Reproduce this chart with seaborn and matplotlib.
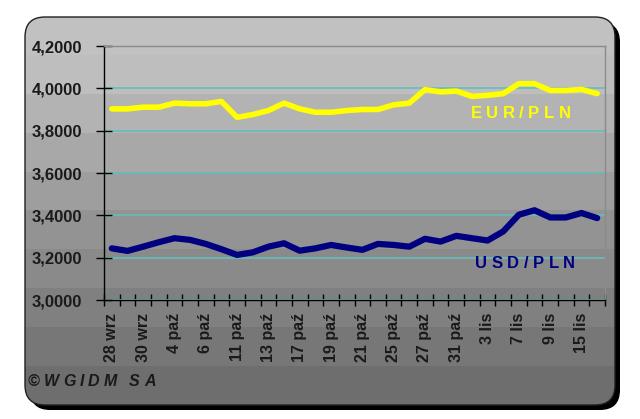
import numpy as np
import pandas as pd
import matplotlib
matplotlib.use("Agg")
import matplotlib.pyplot as plt
import seaborn as sns
from matplotlib.patches import FancyBboxPatch

# kursy walut - notowania dzienne
dates = ['28 wrz', '29 wrz', '30 wrz', '3 paź', '4 paź', '5 paź', '6 paź', '10 paź',
         '11 paź', '12 paź', '13 paź', '16 paź', '17 paź', '18 paź', '19 paź', '20 paź',
         '21 paź', '24 paź', '25 paź', '26 paź', '27 paź', '30 paź', '31 paź', '2 lis',
         '3 lis', '6 lis', '7 lis', '8 lis', '9 lis', '14 lis', '15 lis', '16 lis']
eur_pln = [3.903, 3.903, 3.911, 3.911, 3.930, 3.927, 3.927, 3.938,
           3.863, 3.876, 3.895, 3.930, 3.903, 3.887, 3.887, 3.895,
           3.900, 3.900, 3.922, 3.930, 3.994, 3.983, 3.987, 3.962,
           3.967, 3.975, 4.022, 4.022, 3.990, 3.990, 3.995, 3.975]
usd_pln = [3.244, 3.232, 3.252, 3.273, 3.292, 3.284, 3.265, 3.240,
           3.213, 3.225, 3.252, 3.268, 3.233, 3.244, 3.260, 3.248,
           3.237, 3.265, 3.260, 3.252, 3.289, 3.276, 3.303, 3.292,
           3.281, 3.324, 3.403, 3.424, 3.390, 3.390, 3.411, 3.387]
y_ticks = [3.0, 3.2, 3.4, 3.6, 3.8, 4.0, 4.2]
series_names = ['EUR/PLN', 'USD/PLN']

df = pd.DataFrame({'pos': np.arange(len(dates)), 'date': dates,
                   'EUR/PLN': eur_pln, 'USD/PLN': usd_pln})

sns.set_theme(style="white")
plt.rcParams['font.family'] = ['Liberation Sans', 'DejaVu Sans']

W, H = 640, 419
fig = plt.figure(figsize=(W / 100, H / 100), dpi=100)
fig.patch.set_facecolor('white')

# tlo - zaokraglona ramka z cieniem i pasami szarosci
bg = fig.add_axes([0, 0, 1, 1])
bg.set_axis_off()
shadow = FancyBboxPatch((30, 22), 590, 388, boxstyle="round,pad=0,rounding_size=20",
                        fc='black', ec='none', zorder=0)
bg.add_patch(shadow)
levels = [0.755, 0.745, 0.70, 0.66, 0.62, 0.58, 0.54, 0.50, 0.465, 0.43]
grad = np.repeat(np.array(levels), 39)[:, None]
im = bg.imshow(grad, extent=[25, 615, 405, 17], cmap='gray', vmin=0, vmax=1,
               aspect='auto', interpolation='nearest', zorder=1)
box = FancyBboxPatch((25, 17), 590, 388, boxstyle="round,pad=0,rounding_size=20",
                     fc='none', ec='#202020', lw=1, zorder=2)
bg.add_patch(box)
im.set_clip_path(box)
bg.set_xlim(0, W)
bg.set_ylim(H, 0)


def spaced_text(ax, x, y, s, gap, trans, ha='center', **kw):
    # tekst z rozstrzelonymi literami (jak w oryginale)
    fig.canvas.draw()
    r = fig.canvas.get_renderer()
    parts = []
    for ch in s:
        t = ax.text(0, 0, ch, transform=trans, **kw)
        parts.append((t, t.get_window_extent(renderer=r).width))
    total = sum(w for _, w in parts) + gap * (len(s) - 1)
    px, py = trans.transform((x, y))
    cur = px - total / 2 if ha == 'center' else px
    for t, w in parts:
        t.set_transform(None)
        t.set_position((cur, py))
        t.set_ha('left')
        cur += w + gap


# wykres
ax = fig.add_axes([104 / W, 1 - 300 / H, (605 - 104) / W, (300 - 46) / H])
ax.patch.set_alpha(0)

sns.lineplot(data=df, x='pos', y='EUR/PLN', ax=ax, color='#ffff00', lw=4,
             solid_joinstyle='round', solid_capstyle='round')
sns.lineplot(data=df, x='pos', y='USD/PLN', ax=ax, color='#000080', lw=4.5,
             solid_joinstyle='round', solid_capstyle='round')

ax.set_xlim(-0.5, len(dates) - 0.5)
ax.set_ylim(y_ticks[0], y_ticks[-1])
ax.set_xlabel('')
ax.set_ylabel('')

ax.set_yticks(y_ticks)
ax.set_yticklabels([f'{v:.4f}'.replace('.', ',') for v in y_ticks],
                   fontsize=12, fontweight='bold', color='#1a1a1a')
ax.yaxis.grid(True, color='#66bdbd', lw=1.2)
ax.set_axisbelow(True)

ax.set_xticks(np.arange(-0.5, len(dates), 1))
ax.set_xticklabels([])
ax.set_xticks(np.arange(0, len(dates), 2), minor=True)
ax.set_xticklabels(dates[::2], minor=True, rotation=90, fontsize=11.5,
                   fontweight='bold', color='#1a1a1a')
ax.tick_params(axis='x', which='major', direction='inout', length=9, width=1,
               color='black', bottom=True)
ax.tick_params(axis='x', which='minor', length=0, pad=9, bottom=True)
ax.tick_params(axis='y', direction='inout', length=11, width=1, color='black',
               left=True, pad=10)

for side in ['left', 'bottom']:
    ax.spines[side].set_color('black')
    ax.spines[side].set_linewidth(1)
for side in ['top', 'right']:
    ax.spines[side].set_color('#8a8a8a')
    ax.spines[side].set_linewidth(1)

spaced_text(ax, 26.1, 3.88, series_names[0], 4.5, ax.transData, color='#ffff00',
            fontsize=12, fontweight='bold', va='center')
spaced_text(ax, 26.4, 3.172, series_names[1], 4.5, ax.transData, color='#000080',
            fontsize=12, fontweight='bold', va='center')

spaced_text(bg, 28, 381, '©WGIDM SA', 4, bg.transData, ha='left', fontsize=11.5,
            fontweight='bold', fontstyle='italic', color='#1a1a1a', va='center')

fig.savefig('out.png', dpi=100)
